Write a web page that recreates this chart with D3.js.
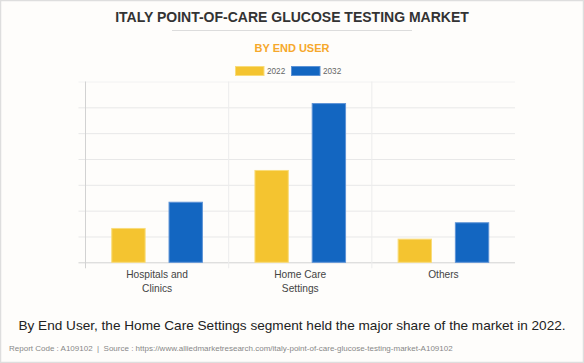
<!DOCTYPE html>
<html lang="en">
<head>
  <meta charset="UTF-8">
  <title>Italy Point-of-Care Glucose Testing Market</title>
  <style>
    *{ margin:0; padding:0; }
    body{ background:#fff; }
  </style>
  <script src="https://cdn.jsdelivr.net/npm/d3@7"></script>
</head>
<body>
  <svg id="mainsvg"></svg>
  <script>
    // data
    const categories = ['Hospitals and Clinics', 'Home Care Settings', 'Others']
    const categoryLines = [['Hospitals and', 'Clinics'], ['Home Care', 'Settings'], ['Others']]
    const years = ['2022', '2032']
    const values2022 = [26.6, 71.5, 18.3]
    const values2032 = [46.9, 123.3, 31.0]
    const yTicks = [0, 20, 40, 60, 80, 100, 120, 140]
    const colors = { '2022': '#f4c430', '2032': '#1366c1' }
    const strokes = { '2022': '#f9dc7a', '2032': '#5d93d6' }

    const width = 584, height = 363
    const plot = { left: 85.5, right: 515, top: 81.5, bottom: 262.3 }
    const font = 'Arial, "Liberation Sans", Helvetica, sans-serif'

    const svg = d3.select('#mainsvg').attr('width', width).attr('height', height)
      .style('display', 'block').style('font-family', font)

    svg.append('rect').attr('x', 0.5).attr('y', 0.5)
      .attr('width', width - 1).attr('height', height - 1)
      .attr('fill', '#fefdfb').attr('stroke', '#dedede').attr('stroke-width', 1.5)

    // header
    svg.append('text').attr('x', 292).attr('y', 22.3).attr('text-anchor', 'middle')
      .attr('font-size', 14).attr('font-weight', 'bold').attr('fill', '#333')
      .text('ITALY POINT-OF-CARE GLUCOSE TESTING MARKET')
    svg.append('line').attr('x1', 172).attr('x2', 412).attr('y1', 30.5).attr('y2', 30.5)
      .attr('stroke', '#dcdcdc')
    svg.append('text').attr('x', 292).attr('y', 51.7).attr('text-anchor', 'middle')
      .attr('font-size', 11).attr('font-weight', 'bold').attr('fill', '#f6a82b')
      .text('BY END USER')

    // legend
    const legend = svg.append('g').attr('transform', 'translate(235,66)')
    years.forEach((yr, i) => {
      const lg = legend.append('g').attr('transform', `translate(${i * 56},0)`)
      lg.append('rect').attr('x', 0.5).attr('y', 0.5).attr('width', 28.5).attr('height', 9)
        .attr('fill', colors[yr]).attr('stroke', strokes[yr])
      lg.append('text').attr('x', 32).attr('y', 8).attr('font-size', 8.2).attr('fill', '#666').text(yr)
    })

    // scales
    const x0 = d3.scaleBand().domain(categories).range([plot.left, plot.right])
    const x1 = d3.scaleBand().domain(years).range([0, x0.bandwidth()])
      .paddingInner(0.4).paddingOuter(0.45)
    const y = d3.scaleLinear().domain([0, 140]).range([plot.bottom, plot.top])

    const g = svg.append('g')

    // horizontal grid
    const yAxis = g.append('g').attr('transform', `translate(${plot.left},0)`)
      .call(d3.axisLeft(y).tickValues(yTicks).tickSize(-(plot.right - plot.left)).tickFormat(''))
    yAxis.select('.domain').remove()
    yAxis.selectAll('.tick line').attr('x1', -7)
      .attr('stroke', d => d === 0 ? '#d2d2d2' : (d === 140 ? '#f2f2f2' : '#e8e8e8'))

    // vertical grid at category boundaries
    g.selectAll('.vgrid').data(categories).join('line').attr('class', 'vgrid')
      .attr('x1', d => x0(d)).attr('x2', d => x0(d))
      .attr('y1', plot.top).attr('y2', plot.bottom + 6)
      .attr('stroke', (d, i) => i === 0 ? '#d2d2d2' : '#ececec')

    // bars
    const rows = categories.map((c, i) => ({ cat: c, vals: [values2022[i], values2032[i]] }))
    g.selectAll('.cat').data(rows).join('g').attr('class', 'cat')
      .attr('transform', d => `translate(${x0(d.cat)},0)`)
      .selectAll('rect').data(d => years.map((yr, j) => ({ yr, v: d.vals[j] }))).join('rect')
      .attr('x', d => x1(d.yr) + 0.5).attr('width', x1.bandwidth() - 1)
      .attr('y', d => y(d.v) + 0.5).attr('height', d => y(0) - y(d.v) - 0.5)
      .attr('fill', d => colors[d.yr]).attr('stroke', d => strokes[d.yr]).attr('stroke-width', 1)

    // x labels
    const xAxis = g.append('g').attr('transform', `translate(0,${plot.bottom})`)
      .call(d3.axisBottom(x0).tickSize(0).tickFormat(''))
    xAxis.select('.domain').remove()
    xAxis.selectAll('.tick').each(function (d, i) {
      const t = d3.select(this).append('text').attr('text-anchor', 'middle')
        .attr('font-size', 10.2).attr('fill', '#444').attr('font-family', font)
      categoryLines[i].forEach((ln, k) => {
        t.append('tspan').attr('x', 0).attr('y', 15.4 + k * 14.2).text(ln)
      })
    })

    // footer
    svg.append('text').attr('x', 292).attr('y', 330).attr('text-anchor', 'middle')
      .attr('font-size', 13.6).attr('fill', '#222')
      .text('By End User, the Home Care Settings segment held the major share of the market in 2022.')
    svg.append('text').attr('x', 9).attr('y', 350.7)
      .attr('font-size', 8).attr('fill', '#888').attr('xml:space', 'preserve')
      .text('Report Code : A109102  |  Source : https://www.alliedmarketresearch.com/italy-point-of-care-glucose-testing-market-A109102')
  </script>
</body>
</html>
